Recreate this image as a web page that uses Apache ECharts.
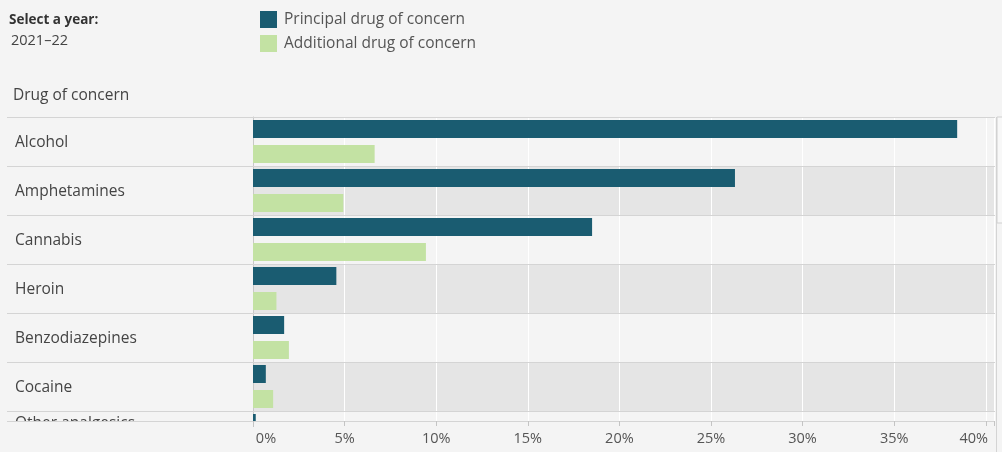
<!DOCTYPE html>
<html>
<head>
<meta charset="utf-8">
<script src="https://cdn.jsdelivr.net/npm/echarts@6/dist/echarts.min.js"></script>
<style>
  html, body { margin: 0; padding: 0; background: #f4f4f4; }
  #chart { width: 1002px; height: 452px; }
</style>
</head>
<body>
<div id="chart"></div>
<script>
// ---- data ----
const categories = ['Alcohol', 'Amphetamines', 'Cannabis', 'Heroin', 'Benzodiazepines', 'Cocaine', 'Other analgesics'];
const principal = [38.44, 26.31, 18.51, 4.55, 1.70, 0.70, 0.15];
const additional = [6.64, 4.93, 9.44, 1.28, 1.96, 1.10, 0.50];
const seriesNames = ['Principal drug of concern', 'Additional drug of concern'];
const xTickValues = [0, 5, 10, 15, 20, 25, 30, 35, 40];
const yearLabel = '2021–22';

// ---- chart ----
const FONT = 'Open Sans';
const X_MAX = 40.45;
const chart = echarts.init(document.getElementById('chart'), null, { renderer: 'canvas' });

const option = {
  backgroundColor: '#f4f4f4',
  animation: false,
  textStyle: { fontFamily: FONT },
  title: [
    { text: 'Select a year:', left: 9, top: 13, padding: 0,
      textStyle: { fontFamily: FONT, fontSize: 13.5, fontWeight: 'bold', color: '#333' } },
    { text: yearLabel, left: 11, top: 33, padding: 0,
      textStyle: { fontFamily: FONT, fontSize: 14.5, fontWeight: 'normal', color: '#444' } },
    { text: 'Drug of concern', left: 13, top: 88, padding: 0,
      textStyle: { fontFamily: FONT, fontSize: 15.5, fontWeight: 'normal', color: '#444' } }
  ],
  legend: {
    data: seriesNames,
    orient: 'vertical',
    left: 260, top: 11, padding: 0,
    itemWidth: 17, itemHeight: 17, itemGap: 7,
    icon: 'rect',
    textStyle: { fontFamily: FONT, fontSize: 15.5, color: '#555', padding: [0, 0, 0, 2] }
  },
  grid: [
    { left: 253, top: 117, width: 741, height: 343, containLabel: false, outerBoundsMode: 'none' },
    { left: 7, top: 117, width: 988, height: 343, containLabel: false, outerBoundsMode: 'none' },
    { left: 253, top: 117, width: 741, height: 304, containLabel: false, outerBoundsMode: 'none' }
  ],
  xAxis: [
    { type: 'value', gridIndex: 0, min: 0, max: X_MAX, interval: 5,
      axisLine: { show: false }, axisTick: { show: false }, axisLabel: { show: false },
      splitLine: { show: true, lineStyle: { color: '#ffffff', width: 1 } } },
    { type: 'value', gridIndex: 1, show: false },
    { type: 'value', gridIndex: 2, min: 0, max: X_MAX, interval: 5, position: 'bottom', z: 20,
      axisLine: { show: false },
      axisTick: { show: true, length: 5, lineStyle: { color: '#c4c4c4' } },
      splitLine: { show: false },
      axisLabel: {
        margin: 10, fontFamily: FONT, fontSize: 14.5, color: '#555',
        formatter: function (v) {
          if (xTickValues.indexOf(Math.round(v * 100) / 100) < 0) return '';
          if (v === xTickValues[0]) return '{a|' + v + '%}';
          if (v === xTickValues[xTickValues.length - 1]) return '{b|' + v + '%}';
          return v + '%';
        },
        rich: {
          a: { fontFamily: FONT, fontSize: 14.5, color: '#555', padding: [0, 0, 0, 26] },
          b: { fontFamily: FONT, fontSize: 14.5, color: '#555', padding: [0, 24, 0, 0] }
        }
      } }
  ],
  yAxis: [
    { type: 'category', gridIndex: 0, inverse: true, data: categories, z: 0,
      axisLine: { show: true, lineStyle: { color: '#c8c8c8' } },
      axisTick: { show: false },
      splitLine: { show: false },
      splitArea: { show: true, areaStyle: { color: ['#f4f4f4', '#e5e5e5'] } },
      axisLabel: {
        align: 'left', margin: 238, fontFamily: FONT, fontSize: 15.5, color: '#444',
        formatter: function (v, i) {
          return i === categories.length - 1 ? '{o|' + v + '}' : '{n|' + v + '}';
        },
        rich: {
          n: { fontFamily: FONT, fontSize: 15.5, color: '#444', padding: [2, 0, 0, 0] },
          o: { fontFamily: FONT, fontSize: 15.5, color: '#444', padding: [0, 0, 24, 0] }
        }
      } },
    { type: 'category', gridIndex: 1, inverse: true, data: categories, z: 3,
      axisLine: { show: false }, axisTick: { show: false }, axisLabel: { show: false },
      splitLine: { show: true, lineStyle: { color: '#d4d4d4', width: 1 } } },
    { type: 'value', gridIndex: 2, show: false }
  ],
  series: [
    { name: seriesNames[0], type: 'bar', xAxisIndex: 0, yAxisIndex: 0, data: principal,
      barWidth: 18, barGap: '38.9%', itemStyle: { color: '#1a5c71' }, z: 4 },
    { name: seriesNames[1], type: 'bar', xAxisIndex: 0, yAxisIndex: 0, data: additional,
      barWidth: 18, barGap: '38.9%', itemStyle: { color: '#c3e2a3' }, z: 4 }
  ],
  graphic: [
    { type: 'rect', z: 10, silent: true,
      shape: { x: 0, y: 421.5, width: 996, height: 31 }, style: { fill: '#f4f4f4' } },
    { type: 'line', z: 12, silent: true,
      shape: { x1: 7, y1: 421.5, x2: 995, y2: 421.5 }, style: { stroke: '#d4d4d4', lineWidth: 1 } },
    { type: 'line', z: 12, silent: true,
      shape: { x1: 253.5, y1: 421, x2: 253.5, y2: 427 }, style: { stroke: '#c4c4c4', lineWidth: 1 } },
    { type: 'line', z: 12, silent: true,
      shape: { x1: 996.5, y1: 117, x2: 996.5, y2: 452 }, style: { stroke: '#d4d4d4', lineWidth: 1 } },
    { type: 'rect', z: 12, silent: true,
      shape: { x: 997, y: 117, width: 6, height: 106 }, style: { fill: '#f8f8f8', stroke: '#d0d0d0', lineWidth: 1 } }
  ]
};
chart.setOption(option);
</script>
</body>
</html>
